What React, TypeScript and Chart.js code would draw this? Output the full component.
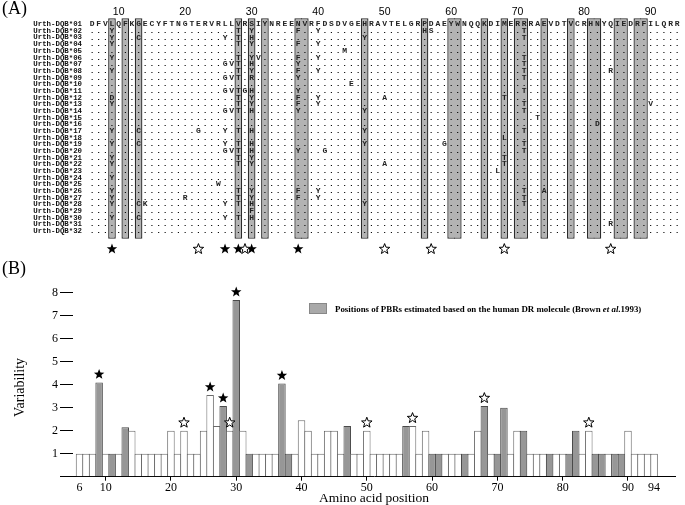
import React, { useEffect, useRef } from 'react';
import { Chart, registerables } from 'chart.js';

Chart.register(...registerables);

// ---------- Panel A data ----------
const firstPosition = 6;
const refSequence = 'DFVLQFKGECYFTNGTERVRLLVRSIYNREENVRFDSDVGEHRAVTELGRPDAEYWNQQKDIMERRRAEVDTVCRHNYQIEDRFILQRR';
const alleleNames = [
  'Urth-DQB*01', 'Urth-DQB*02', 'Urth-DQB*03', 'Urth-DQB*04', 'Urth-DQB*05', 'Urth-DQB*06', 'Urth-DQB*07', 'Urth-DQB*08',
  'Urth-DQB*09', 'Urth-DQB*10', 'Urth-DQB*11', 'Urth-DQB*12', 'Urth-DQB*13', 'Urth-DQB*14', 'Urth-DQB*15', 'Urth-DQB*16',
  'Urth-DQB*17', 'Urth-DQB*18', 'Urth-DQB*19', 'Urth-DQB*20', 'Urth-DQB*21', 'Urth-DQB*22', 'Urth-DQB*23', 'Urth-DQB*24',
  'Urth-DQB*25', 'Urth-DQB*26', 'Urth-DQB*27', 'Urth-DQB*28', 'Urth-DQB*29', 'Urth-DQB*30', 'Urth-DQB*31', 'Urth-DQB*32',
];
// substitutions relative to Urth-DQB*01 ("position+residue")
const alleleVariants = [
  '',
  '9Y 28T 30Y 37F 40Y 56H 57S 71T',
  '9Y 13C 26Y 28T 30H 47Y 71T',
  '9Y 28T 30Y 37F 40Y',
  '44M',
  '9Y 28T 30Y 31V 37F 40Y 71T',
  '26G 27V 28T 30H 37Y 71T',
  '9Y 28T 30Y 37F 40Y 71T 84R',
  '26G 27V 28T 30R 37Y 71T',
  '45E',
  '26G 27V 28T 29G 30H 37Y 71T',
  '9D 28T 30Y 37F 40Y 50A 68T',
  '9Y 28T 30Y 37F 40Y 71T 90V',
  '26G 27V 28T 30H 37Y 47Y 71T',
  '73T',
  '82D',
  '9Y 13C 22G 26Y 28T 30H 47Y 71T',
  '68L',
  '9Y 13C 26Y 28T 30H 47Y 59G 71T',
  '26G 27V 28T 30H 37Y 41G 71T',
  '9Y 28T 30Y 68T',
  '9Y 28T 30Y 50A 68T',
  '67L',
  '9Y',
  '25W',
  '9Y 28T 30Y 37F 40Y 71T 74A',
  '9Y 20R 28T 30Y 37F 40Y 71T',
  '9Y 13C 14K 26Y 28T 30H 47Y 71T',
  '30F',
  '9Y 13C 26Y 28T 30H',
  '84R',
  '',
];
const headerNumbers = [10, 20, 30, 40, 50, 60, 70, 80, 90];
const pbrPositions = [9, 11, 13, 28, 30, 32, 37, 38, 47, 56, 60, 61, 65, 68, 70, 71, 74, 78, 81, 82, 85, 86, 88, 89];
const filledStarPositions = [9, 26, 28, 30, 37];
const openStarPositions = [22, 29, 50, 57, 68, 84];

// ---------- Panel B data ----------
const variability = [
  1, 1, 1, 4.1, 1, 1, 1, 2.15, 2, 1, // 6-15
  1, 1, 1, 1, 2, 1, 2, 1, 1, 2, // 16-25
  3.55, 2.2, 3.07, 2, 7.68, 2, 1, 1, 1, 1, // 26-35
  1, 4.05, 1, 1, 2.45, 2, 1, 1, 2, 2, // 36-45
  1, 2.2, 1, 1, 2, 1, 1, 1, 1, 1, // 46-55
  2.2, 2.2, 1, 2, 1, 1, 1, 1, 1, 1, // 56-65
  1, 2, 3.07, 1, 1, 3.0, 1, 2, 2, 1, // 66-75
  1, 1, 1, 1, 1, 1, 2, 1, 2, 1, // 76-85
  1, 1, 1, 1, 2, 1, 1, 1, 1, // 86-94
];
const xTickValues = [6, 10, 20, 30, 40, 50, 60, 70, 80, 90, 94];
const yTickValues = [0, 1, 2, 3, 4, 5, 6, 7, 8];
const legendText = ['Positions of PBRs estimated based on the human DR molecule (Brown ', 'et al', '.1993)'];

const SERIF = '"Liberation Serif", "Times New Roman", serif';
const MONO = '"Liberation Mono", "DejaVu Sans Mono", monospace';

function parseVariants(s: string): Record<number, string> {
  const out: Record<number, string> = {};
  s.split(' ').filter(Boolean).forEach((t) => {
    const pos = parseInt(t, 10);
    out[pos] = t.replace(/^\d+/, '');
  });
  return out;
}

function drawStar(ctx: CanvasRenderingContext2D, cx: number, cy: number, R: number, filled: boolean) {
  const r = R * 0.42;
  ctx.beginPath();
  for (let i = 0; i < 10; i++) {
    const ang = -Math.PI / 2 + (i * Math.PI) / 5;
    const rad = i % 2 === 0 ? R : r;
    const px = cx + rad * Math.cos(ang);
    const py = cy + rad * Math.sin(ang);
    if (i === 0) ctx.moveTo(px, py);
    else ctx.lineTo(px, py);
  }
  ctx.closePath();
  if (filled) {
    ctx.fillStyle = '#000';
    ctx.fill();
  } else {
    ctx.fillStyle = '#fff';
    ctx.fill();
    ctx.strokeStyle = '#000';
    ctx.lineWidth = 1;
    ctx.stroke();
  }
}

const alignmentPlugin = {
  id: 'alignmentText',
  afterDatasetsDraw(chart: any) {
    const { ctx, scales } = chart;
    const x = scales.x;
    const y = scales.y;
    ctx.save();
    ctx.fillStyle = '#000';
    ctx.font = `18px ${SERIF}`;
    ctx.textAlign = 'left';
    ctx.textBaseline = 'top';
    ctx.fillText('(A)', 2, 0);

    ctx.font = '10.5px "Liberation Sans", Arial, sans-serif';
    ctx.textAlign = 'center';
    ctx.textBaseline = 'middle';
    headerNumbers.forEach((n) => ctx.fillText(String(n), x.getPixelForValue(n), y.getPixelForValue(-0.8)));

    alleleNames.forEach((name, i) => {
      const py = y.getPixelForValue(i + 1);
      ctx.fillStyle = '#111';
      ctx.font = `bold 7.4px ${MONO}`;
      ctx.textAlign = 'right';
      ctx.fillText(name, x.getPixelForValue(4.5), py);
      ctx.font = `bold 8px ${MONO}`;
      ctx.textAlign = 'center';
      const vmap = parseVariants(alleleVariants[i]);
      for (let k = 0; k < refSequence.length; k++) {
        const pos = firstPosition + k;
        const ch = i === 0 ? refSequence[k] : vmap[pos] || '.';
        ctx.fillStyle = ch === '.' ? '#000' : '#222';
        ctx.fillText(ch, x.getPixelForValue(pos), py);
      }
    });

    const starY = y.getPixelForValue(34.7);
    filledStarPositions.forEach((p) => drawStar(ctx, x.getPixelForValue(p), starY, 5.5, true));
    openStarPositions.forEach((p) => drawStar(ctx, x.getPixelForValue(p), starY, 5.5, false));
    ctx.restore();
  },
};

const variabilityPlugin = {
  id: 'variabilityExtras',
  afterDatasetsDraw(chart: any) {
    const { ctx, scales } = chart;
    const x = scales.x;
    const y = scales.y;
    ctx.save();
    ctx.fillStyle = '#000';
    ctx.font = `18px ${SERIF}`;
    ctx.textAlign = 'left';
    ctx.textBaseline = 'top';
    ctx.fillText('(B)', 2, 5);

    // y title
    ctx.save();
    ctx.translate(20, 132.5);
    ctx.rotate(-Math.PI / 2);
    ctx.font = `14px ${SERIF}`;
    ctx.textAlign = 'center';
    ctx.textBaseline = 'middle';
    ctx.fillText('Variability', 0, 0);
    ctx.restore();

    // legend
    ctx.fillStyle = '#a9a9a9';
    ctx.fillRect(309.5, 48.5, 17, 10);
    ctx.strokeStyle = '#888';
    ctx.lineWidth = 1;
    ctx.strokeRect(309.5, 48.5, 17, 10);
    const fonts = ['bold', 'italic bold', 'bold'];
    const base = 10;
    let total = 0;
    legendText.forEach((t, i) => {
      ctx.font = `${fonts[i]} ${base}px ${SERIF}`;
      total += ctx.measureText(t).width;
    });
    const size = (base * 307) / total;
    let tx = 335;
    ctx.fillStyle = '#000';
    ctx.textBaseline = 'alphabetic';
    legendText.forEach((t, i) => {
      ctx.font = `${fonts[i]} ${size}px ${SERIF}`;
      ctx.fillText(t, tx, 57);
      tx += ctx.measureText(t).width;
    });

    // stars above bars
    const starAt = (p: number, filled: boolean) => {
      const v = variability[p - firstPosition];
      drawStar(ctx, x.getPixelForValue(p), y.getPixelForValue(v) - 8, 5.5, filled);
    };
    filledStarPositions.forEach((p) => starAt(p, true));
    openStarPositions.forEach((p) => starAt(p, false));
    ctx.restore();
  },
};

export default function App() {
  const refA = useRef<HTMLCanvasElement | null>(null);
  const refB = useRef<HTMLCanvasElement | null>(null);

  useEffect(() => {
    const pbrSet = new Set(pbrPositions);
    const chartA = new Chart(refA.current as HTMLCanvasElement, {
      type: 'bar',
      data: {
        datasets: [
          {
            data: pbrPositions.map((p) => ({ x: p, y: [0.1, 33.15] })) as any,
            backgroundColor: '#b3b3b3',
            borderColor: '#2b2b2b',
            borderWidth: 1.3,
            barPercentage: 1.15,
            categoryPercentage: 1,
            borderSkipped: ((c: any) => {
              const p = c.raw ? c.raw.x : 0;
              if (pbrSet.has(p + 1)) return 'right';
              if (pbrSet.has(p - 1)) return 'left';
              return false;
            }) as any,
          },
        ],
      },
      options: {
        animation: false,
        responsive: false,
        maintainAspectRatio: false,
        events: [],
        layout: { padding: 0 },
        scales: {
          x: { type: 'linear', min: -7.84, max: 95.17, display: false, offset: false, grid: { offset: false } },
          y: { type: 'linear', min: -2.643, max: 35.59, reverse: true, display: false },
        },
        plugins: { legend: { display: false }, tooltip: { enabled: false } },
      },
      plugins: [alignmentPlugin],
    });

    const chartB = new Chart(refB.current as HTMLCanvasElement, {
      type: 'bar',
      data: {
        datasets: [
          {
            data: variability.map((v, i) => ({ x: firstPosition + i, y: v })) as any,
            backgroundColor: ((c: any) => (c.raw && pbrSet.has(c.raw.x) ? '#979797' : '#ffffff')) as any,
            borderColor: ((c: any) => (c.raw && pbrSet.has(c.raw.x) ? '#4a4a4a' : '#6a6a6a')) as any,
            borderWidth: 1,
            barPercentage: 1.15,
            categoryPercentage: 1,
          },
        ],
      },
      options: {
        animation: false,
        responsive: false,
        maintainAspectRatio: false,
        events: [],
        layout: { padding: { top: 26.2, right: 10, left: 0, bottom: 0 } },
        scales: {
          x: {
            type: 'linear',
            min: 5.0,
            max: 97.2,
            offset: false,
            z: 1,
            afterBuildTicks: (s: any) => {
              s.ticks = xTickValues.map((v) => ({ value: v }));
            },
            afterFit: (s: any) => {
              s.height = 28.3;
            },
            grid: {
              offset: false,
              drawOnChartArea: false,
              drawTicks: true,
              tickLength: 4,
              color: ((c: any) => (c.tick && c.tick.value % 10 === 0 ? '#000' : 'rgba(0,0,0,0)')) as any,
            },
            border: { display: true, color: '#000', width: 1 },
            ticks: {
              autoSkip: false,
              maxRotation: 0,
              padding: 0,
              color: '#000',
              font: { family: SERIF, size: 12 },
              callback: (v: any) => String(v),
            },
            title: {
              display: true,
              text: 'Amino acid position',
              color: '#000',
              font: { family: SERIF, size: 13.5 },
              padding: { top: 0, bottom: -2 },
            },
          },
          y: {
            type: 'linear',
            min: 0,
            max: 8.5,
            afterBuildTicks: (s: any) => {
              s.ticks = yTickValues.map((v) => ({ value: v }));
            },
            afterFit: (s: any) => {
              s.width = 73;
            },
            grid: { drawOnChartArea: false, drawTicks: true, tickLength: 13, color: '#000' },
            border: { display: false },
            ticks: {
              padding: 2,
              color: '#000',
              font: { family: SERIF, size: 12 },
              callback: (v: any) => (v === 0 ? '' : String(v)),
            },
          },
        },
        plugins: { legend: { display: false }, tooltip: { enabled: false } },
      },
      plugins: [variabilityPlugin],
    });

    return () => {
      chartA.destroy();
      chartB.destroy();
    };
  }, []);

  return (
    <div style={{ position: 'absolute', left: 0, top: 0, width: 685, height: 505, background: '#fff' }}>
      <canvas ref={refA} width={685} height={255} style={{ display: 'block', width: 685, height: 255 }} />
      <canvas ref={refB} width={685} height={250} style={{ display: 'block', width: 685, height: 250 }} />
    </div>
  );
}
